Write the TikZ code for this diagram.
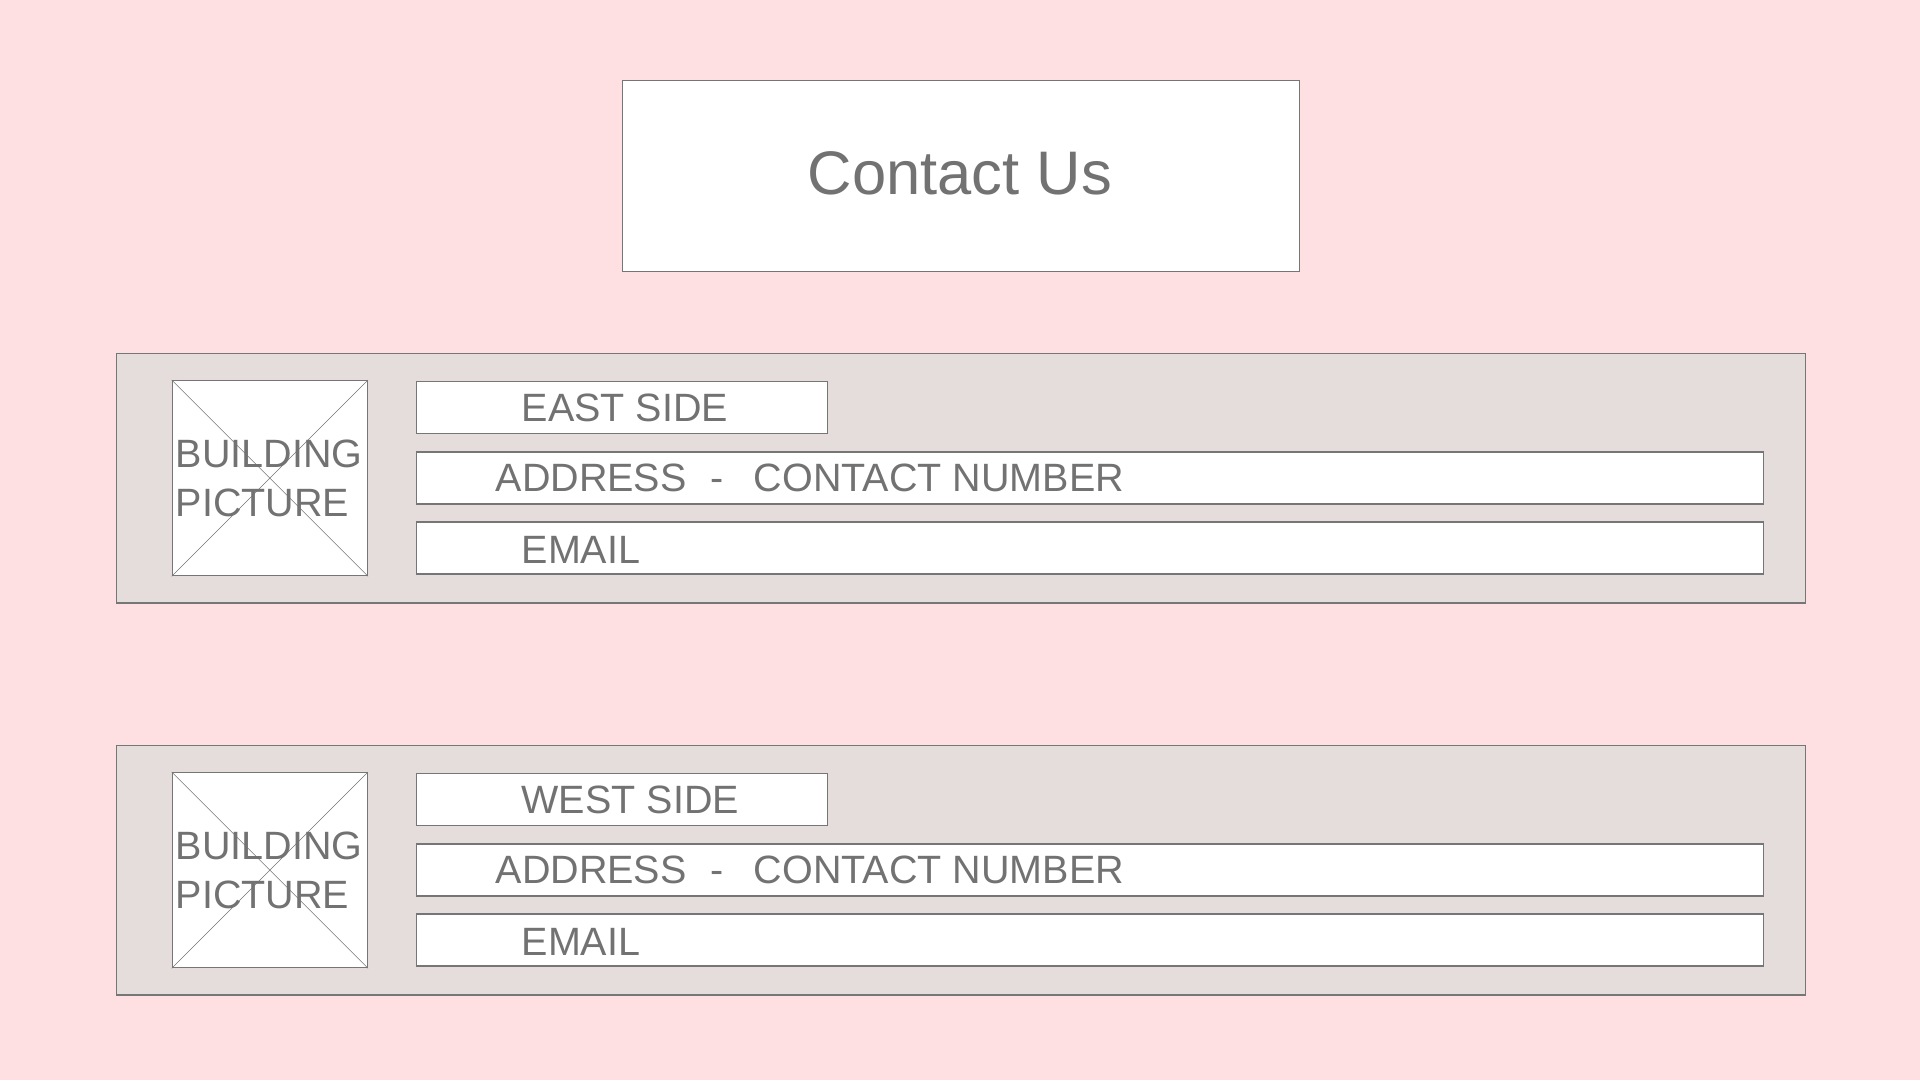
\documentclass[tikz,border=0pt]{standalone}
\usepackage{fontspec}
\setmainfont{Liberation Sans}
\definecolor{bgpink}{RGB}{255,224,226}
\definecolor{panelgray}{RGB}{229,220,220}
\definecolor{linegray}{RGB}{118,118,118}
\definecolor{textgray}{RGB}{114,114,114}
\begin{document}
\begin{tikzpicture}[x=1pt,y=-1pt,
  panelbox/.style={draw=linegray,line width=1.3pt,fill=panelgray,anchor=north west,inner sep=0pt},
  fieldbox/.style={draw=linegray,line width=1.3pt,fill=white,anchor=north west,inner sep=0pt},
  fieldtext/.style={text=textgray,font=\fontsize{39.5}{46}\selectfont,anchor=base west,inner sep=0pt},
  crossline/.style={draw=linegray,line width=0.6pt}]
\fill[bgpink] (0,0) rectangle (1920,1080);
\useasboundingbox (0,0) rectangle (1920,1080);
% title
\node[fieldbox,minimum width=677pt,minimum height=191pt] (title) at (621.5,79.5) {};
\node[text=textgray,font=\fontsize{61.5}{72}\selectfont,anchor=base,inner sep=0pt] (titletext) at (960,194) {Contact Us};
% panels
\foreach \dy/\side/\n in {0/EAST SIDE/1, 392/WEST SIDE/2}{
  \node[panelbox,minimum width=1689pt,minimum height=249.5pt] (panel\n) at (115.5,352.7+\dy) {};
  \node[fieldbox,minimum width=195pt,minimum height=195pt] (pic\n) at (171.7,380+\dy) {};
  \draw[crossline] (pic\n.north west) -- (pic\n.south east);
  \draw[crossline] (pic\n.north east) -- (pic\n.south west);
  \node[fieldtext] (bldg\n) at (175.5,467.5+\dy) {BUILDING};
  \node[fieldtext] (pict\n) at (175.5,516.5+\dy) {PICTURE};
  \node[fieldbox,minimum width=411pt,minimum height=52pt] (side\n) at (416,381+\dy) {};
  \node[fieldtext] (sidetext\n) at (521.5,421.5+\dy) {\side};
  \node[fieldbox,minimum width=1346.5pt,minimum height=52pt] (addr\n) at (416,451.3+\dy) {};
  \node[fieldtext] (addrtext\n) at (495.5,491.5+\dy) {ADDRESS\hspace{24pt}-\hspace{30pt}CONTACT NUMBER};
  \node[fieldbox,minimum width=1346.5pt,minimum height=52pt] (mail\n) at (416,521.3+\dy) {};
  \node[fieldtext] (mailtext\n) at (521.5,563+\dy) {EMAIL};
}
\end{tikzpicture}
\end{document}
